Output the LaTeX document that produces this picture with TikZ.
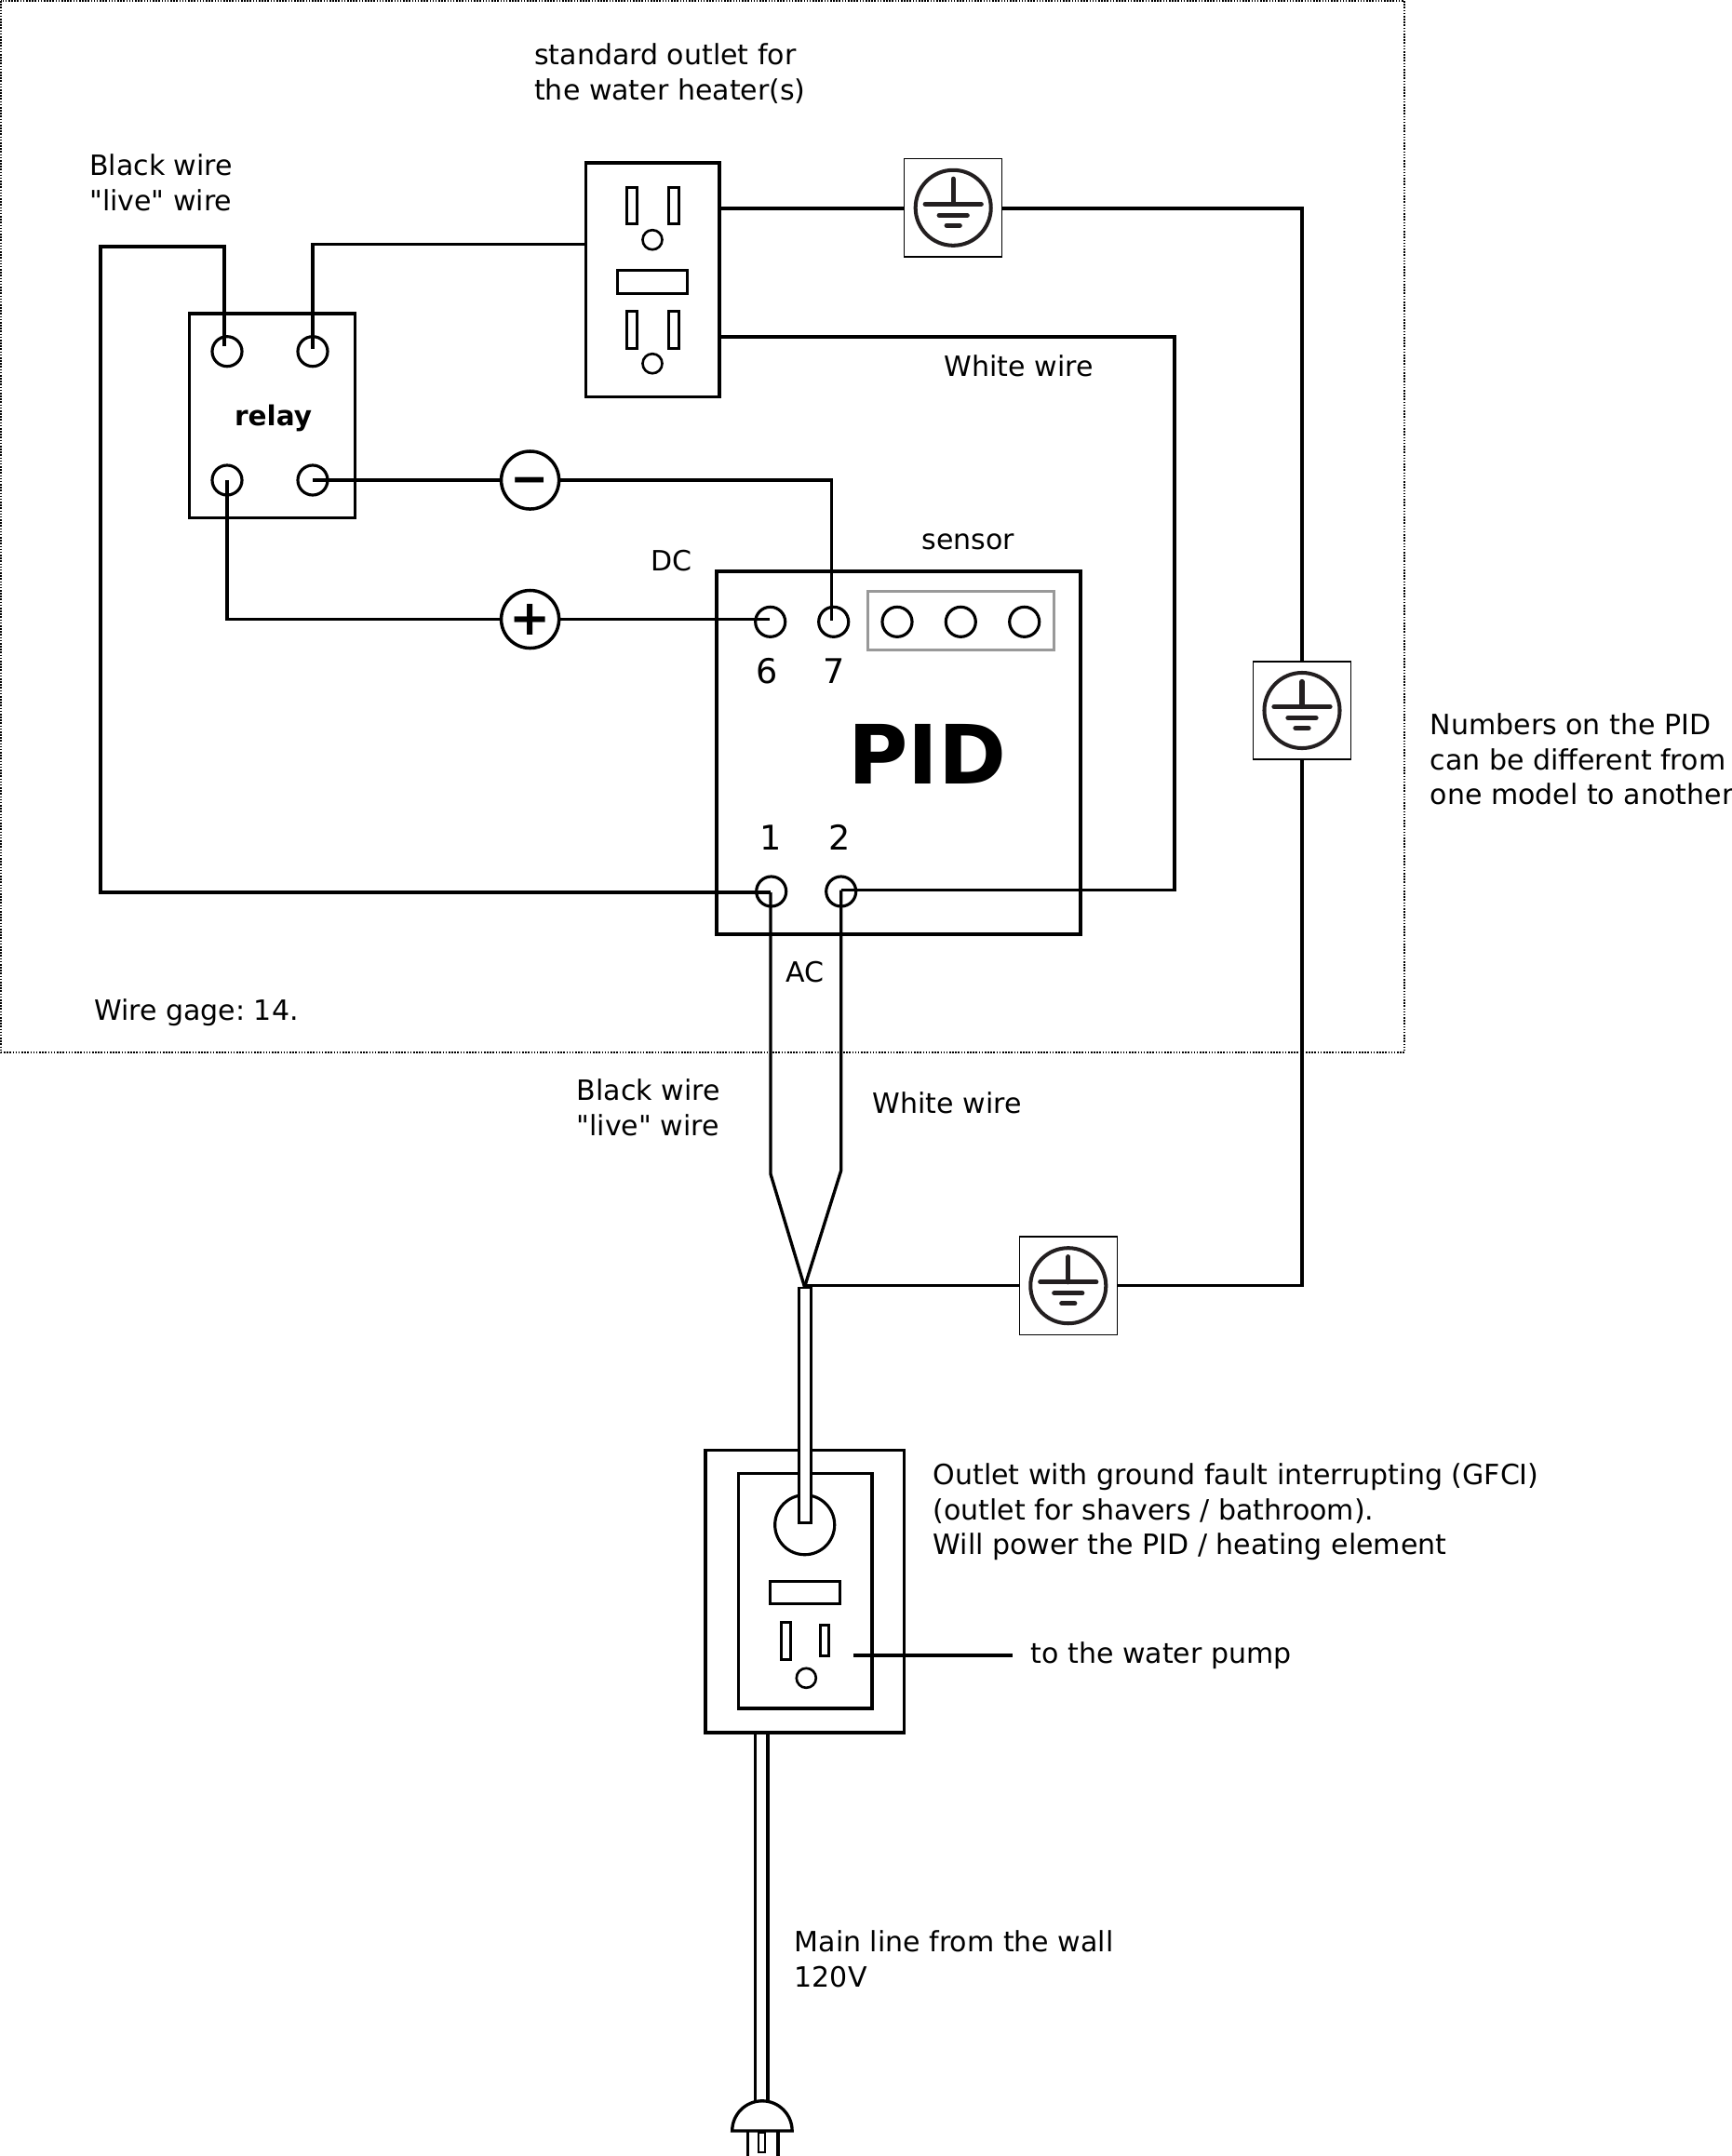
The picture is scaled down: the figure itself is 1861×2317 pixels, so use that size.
\documentclass[tikz,border=0pt]{standalone}
\usepackage{fontspec}
\setmainfont[Ligatures=TeXOff]{DejaVu Sans}
\frenchspacing
\tikzset{
	wire/.style={line width=0.95pt,line join=miter},
	lbl/.style={anchor=west,align=left,inner sep=0pt,font=\fontsize{8.54}{10.7}\selectfont},
	num/.style={inner sep=0pt,font=\fontsize{10.4}{12}\selectfont},
	box/.style={draw,rectangle,line width=1pt,inner sep=0pt,outer sep=0pt},
	term/.style={draw,circle,line width=0.9pt,minimum size=0.32cm,inner sep=0pt,outer sep=0pt},
	hole/.style={draw,circle,line width=0.75pt,minimum size=0.21cm,inner sep=0pt,outer sep=0pt},
	slot/.style={draw,rectangle,line width=0.85pt},
	pole/.style={draw,circle,line width=1pt,minimum size=0.62cm,inner sep=0pt,outer sep=0pt,font=\bfseries\fontsize{14}{14}\selectfont},
	gndbox/.style={draw,rectangle,line width=0.4pt,minimum size=1.05cm,inner sep=0pt,outer sep=0pt},
	gndsym/.pic={
		\draw [color=gnddark,line width=1.15pt] (0,0) circle (0.405cm);
		\draw [color=gnddark,line width=1.5pt,line cap=round] (0,-31)-- (0,-4);
		\draw [color=gnddark,line width=1.5pt,line cap=round] (-30,-4)-- (30,-4);
		\draw [color=gnddark,line width=1.5pt,line cap=round] (-15,8)-- (15,8);
		\draw [color=gnddark,line width=1.5pt,line cap=round] (-7,19)-- (7,19);
	}
}
\definecolor{gnddark}{HTML}{231F20}
\definecolor{sensorgray}{HTML}{999999}
\begin{document}
\begin{tikzpicture}[x=0.01cm,y=-0.01cm]
	\useasboundingbox (0,0) rectangle (1861,2317);
	% enclosure
	\draw [line width=0.35pt,dash pattern=on 0.45pt off 0.45pt] (1,1) rectangle (1509,1131);
	% relay
	\node [box,minimum width=1.78cm,minimum height=2.19cm] (relay) at (292.5,446.7) {};
	\node [inner sep=0pt,font=\bfseries\fontsize{8.4}{10}\selectfont] (relaytext) at (293.6,449.5) {relay};
	\node [term] (ra) at (244,377.7) {};
	\node [term] (rb) at (336,377.7) {};
	\node [term] (rc) at (244,516) {};
	\node [term] (rd) at (336,516) {};
	% heater outlet
	\node [box,minimum width=1.434cm,minimum height=2.517cm] (outlet) at (701,300.8) {};
	\foreach \x in {678.5,723.5} {
		\draw [slot] (\x-5.5,201.7) rectangle (\x+5.5,240.7);
		\draw [slot] (\x-5.5,334) rectangle (\x+5.5,374);
	}
	\draw [slot] (663,290.7) rectangle (738.7,315);
	\node [hole] (holea) at (701,257.7) {};
	\node [hole] (holeb) at (701,390.7) {};
	% pid
	\node [box,minimum width=3.907cm,minimum height=3.9cm] (pid) at (965.4,809) {};
	\node [inner sep=0pt,font=\bfseries\fontsize{25}{26}\selectfont] (pidtext) at (996.3,810) {PID};
	\draw [line width=0.9pt,color=sensorgray] (932.7,635.3) rectangle (1132.7,698.7);
	\node [term] (p6) at (827.7,668.3) {};
	\node [term] (p7) at (895.7,668.3) {};
	\node [term] (sa) at (964,668.3) {};
	\node [term] (sb) at (1032.3,668.3) {};
	\node [term] (sc) at (1100.7,668.3) {};
	\node [term] (p1) at (828.7,958) {};
	\node [term] (p2) at (903.7,958) {};
	\node [num] (n6) at (823.7,720.7) {6};
	\node [num] (n7) at (896.5,720.7) {7};
	\node [num] (n1) at (827.7,900) {1};
	\node [num] (n2) at (902.5,900) {2};
	% polarity
	\node [pole] (minus) at (569.6,516) {\raisebox{-0.31em}[0pt][0pt]{−}};
	\node [pole,font=\bfseries\fontsize{15}{15}\selectfont] (plus) at (569.6,665.5) {+};
	% earth
	\node [gndbox] (gnda) at (1024.2,223.3) {};
	\node [gndbox] (gndb) at (1399,763.5) {};
	\node [gndbox] (gndc) at (1147.8,1381.7) {};
	\pic at (gnda) {gndsym};
	\pic at (gndb) {gndsym};
	\pic at (gndc) {gndsym};
	% wire ends
	\coordinate (tipa) at (241,372.3);
	\coordinate (tipb) at (336,375);
	\coordinate (tipd) at (336,516);
	\coordinate (tipc) at (244,516);
	\coordinate (tip6) at (827,665.5);
	\coordinate (tip7) at (893.7,666.7);
	\coordinate (tip1) at (828,959);
	\coordinate (tip2) at (903.7,956.7);
	\coordinate (bendlive) at (108,265);
	\coordinate (hotin) at (629.3,262.7);
	\coordinate (hotout) at (772.7,224);
	\coordinate (neutout) at (772.7,362);
	\coordinate (bendneut) at (1262,362);
	\coordinate (bendminus) at (893.7,516);
	\coordinate (bendearth) at (1399,1381.7);
	\coordinate (taperl) at (828,1261.7);
	\coordinate (taperr) at (903.7,1258);
	\coordinate (join) at (864.5,1383);
	\coordinate (earthin) at (865,1381.7);
	% wires in the enclosure
	\draw [wire] (tipa) |- (bendlive) |- (tip1);
	\draw [wire] (tipb) |- (hotin);
	\draw [wire] (neutout) -| (bendneut) |- (tip2);
	\draw [wire] (tipd) -- (minus.west);
	\draw [wire] (minus.east) -- (bendminus) -- (tip7);
	\draw [wire] (tipc) |- (plus.west);
	\draw [wire] (plus.east) -- (tip6);
	\draw [wire] (hotout) -- (hotout -| gnda.west);
	\draw [wire] (hotout -| gnda.east) -| (gndb.north);
	\draw [wire] (gndb.south) -- (bendearth) -- (gndc.east);
	\draw [wire] (gndc.west) -- (earthin);
	\draw [wire] (tip1) -- (taperl) -- (join);
	\draw [wire] (tip2) -- (taperr) -- (join);
	% gfci outlet
	\node [box,minimum width=2.13cm,minimum height=3.033cm] (gfci) at (864.8,1710.3) {};
	\node [box,minimum width=1.434cm,minimum height=2.52cm] (gfciin) at (865,1709.7) {};
	\node [term,minimum size=0.64cm] (reset) at (864.7,1638.7) {};
	\draw [box,line width=0.8pt,fill=white] (858.5,1384) rectangle (871.5,1636.7);
	\draw [slot] (827.3,1699.7) rectangle (902.3,1723.3);
	\draw [slot] (839.3,1743.3) rectangle (849.3,1783);
	\draw [slot] (881,1746.7) rectangle (890.7,1779.7);
	\node [hole] (holec) at (866.3,1803.3) {};
	\coordinate (pumpa) at (917,1779);
	\coordinate (pumpb) at (1088,1779);
	\draw [wire] (pumpa) -- (pumpb);
	% plug
	\coordinate (maina) at (811.3,1862);
	\coordinate (mainb) at (825,1862);
	\coordinate (plugl) at (786.7,2290);
	\draw [wire] (maina) -- (811.3,2258);
	\draw [wire] (mainb) -- (825,2258);
	\draw [wire] (plugl) arc[start angle=180,end angle=0,radius=0.322cm] -- cycle;
	\draw [wire] (803.3,2290) -- (803.3,2317);
	\draw [wire] (836,2290) -- (836,2317);
	\draw [line width=0.65pt] (815,2292) rectangle (821.7,2312.7);
	% texts
	\node [lbl] (ltop) at (573.5,79) {standard outlet for\\the water heater(s)};
	\node [lbl] (llive) at (95.5,196) {Black wire\\"live" wire};
	\node [lbl] (lwhite) at (1014,393) {White wire};
	\node [lbl] (lsensor) at (990,582.5) {sensor};
	\node [lbl] (ldc) at (699,602.5) {DC};
	\node [lbl] (lac) at (844,1045) {AC};
	\node [lbl] (lgage) at (100.5,1088.5) {Wire gage: 14.};
	\node [lbl] (llivb) at (619,1190.5) {Black wire\\"live" wire};
	\node [lbl] (lwhitb) at (937,1185) {White wire};
	\node [lbl] (lnum) at (1536,816) {Numbers on the PID\\can be different from\\one model to another};
	\node [lbl] (lgfci) at (1002,1625) {Outlet with ground fault interrupting (GFCI)\\(outlet for shavers / bathroom).\\Will power the PID / heating element};
	\node [lbl] (lpump) at (1107,1779) {to the water pump};
	\node [lbl] (lmain) at (853,2105.5) {Main line from the wall\\120V};
\end{tikzpicture}
\end{document}
